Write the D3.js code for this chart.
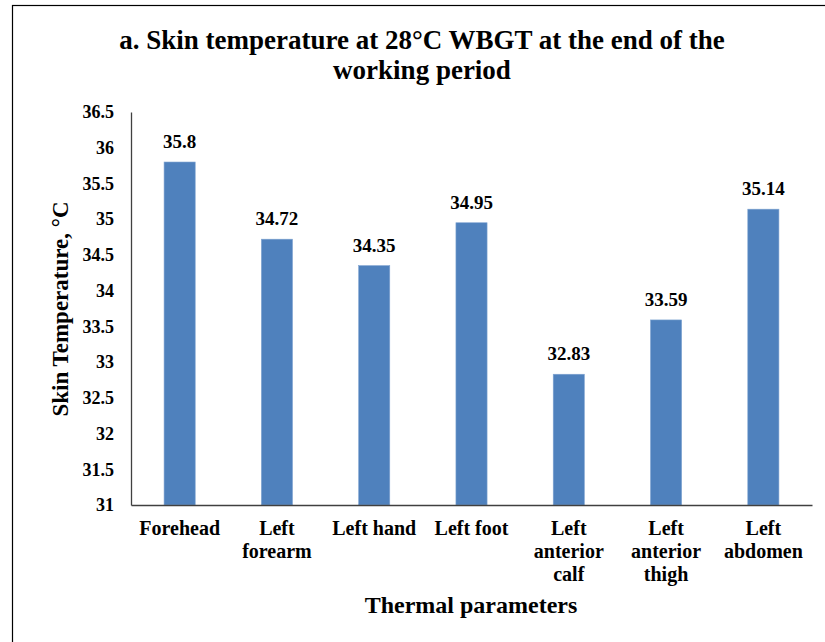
<!DOCTYPE html>
<html>
<head>
<meta charset="utf-8">
<script src="https://cdn.jsdelivr.net/npm/d3@7"></script>
<style>
  body { margin: 0; background: #fff; }
  svg, svg text, svg tspan { font-family: "Liberation Serif", serif !important; font-weight: bold; }
  svg text { fill: #000; }
</style>
</head>
<body>
<div id="chart"></div>
<script>
const width = 825;
const height = 642;

// chart values
const categories = [["Forehead"], ["Left", "forearm"], ["Left hand"], ["Left foot"],
  ["Left", "anterior", "calf"], ["Left", "anterior", "thigh"], ["Left", "abdomen"]];
const values = [35.8, 34.72, 34.35, 34.95, 32.83, 33.59, 35.14];
const yTicks = [31, 31.5, 32, 32.5, 33, 33.5, 34, 34.5, 35, 35.5, 36, 36.5];

const plot = {left: 131, right: 812, top: 112, bottom: 505};

let svg = d3.select("#chart")
  .append("svg")
  .attr("width", width)
  .attr("height", height)

// outer frame
svg.append("rect")
  .attr("x", 12.5).attr("y", 5.5)
  .attr("width", 850).attr("height", 700)
  .attr("fill", "none").attr("stroke", "#000").attr("stroke-width", 1.2)

const x = d3.scaleBand()
  .domain(d3.range(values.length))
  .range([plot.left, plot.right])
  .paddingInner(0.68).paddingOuter(0.34)

const y = d3.scaleLinear()
  .domain([31, 36.5])
  .range([plot.bottom, plot.top])

// title
svg.append("text")
  .attr("text-anchor", "middle")
  .style("font-size", "27px")
  .selectAll("tspan")
  .data(["a. Skin temperature at 28°C WBGT at the end of the", "working period"])
  .join("tspan")
  .attr("x", 422)
  .attr("y", (d, i) => 49 + i * 30)
  .text(d => d)

// y axis
let yAxis = svg.append("g")
  .attr("transform", `translate(${plot.left},0)`)
  .call(d3.axisLeft(y).tickValues(yTicks).tickSize(0).tickPadding(17).tickFormat(d3.format("")))
yAxis.attr("font-family", null)
yAxis.select(".domain").attr("stroke", "#404040").attr("stroke-width", 1.3)
yAxis.selectAll("text").style("font-size", "18px")

// bars
svg.selectAll(".bar")
  .data(values)
  .join("rect")
  .attr("class", "bar")
  .attr("x", (d, i) => x(i))
  .attr("y", d => y(d))
  .attr("width", x.bandwidth())
  .attr("height", d => y(31) - y(d))
  .attr("fill", "#4F81BD")
  .attr("stroke", "#7FA3D1")
  .attr("stroke-width", 0.6)

// value labels
svg.selectAll(".val")
  .data(values)
  .join("text")
  .attr("class", "val")
  .attr("x", (d, i) => x(i) + x.bandwidth() / 2)
  .attr("y", d => y(d) - 14)
  .attr("text-anchor", "middle")
  .style("font-size", "19px")
  .text(d => d)

// x axis
let xAxis = svg.append("g")
  .attr("transform", `translate(0,${plot.bottom})`)
  .call(d3.axisBottom(x).tickSize(0).tickFormat(""))
xAxis.select(".domain").attr("stroke", "#404040").attr("stroke-width", 1.3)

// category labels
svg.selectAll(".cat")
  .data(categories)
  .join("text")
  .attr("class", "cat")
  .attr("text-anchor", "middle")
  .style("font-size", "20px")
  .each(function (lines, i) {
    d3.select(this).selectAll("tspan")
      .data(lines)
      .join("tspan")
      .attr("x", x(i) + x.bandwidth() / 2)
      .attr("y", (d, j) => 535 + j * 23)
      .text(d => d)
  })

// axis titles
svg.append("text")
  .attr("x", 471).attr("y", 613)
  .attr("text-anchor", "middle")
  .style("font-size", "24px")
  .text("Thermal parameters")

svg.append("text")
  .attr("transform", "translate(68,309) rotate(-90)")
  .attr("text-anchor", "middle")
  .style("font-size", "23px")
  .text("Skin Temperature, °C")
</script>
</body>
</html>
